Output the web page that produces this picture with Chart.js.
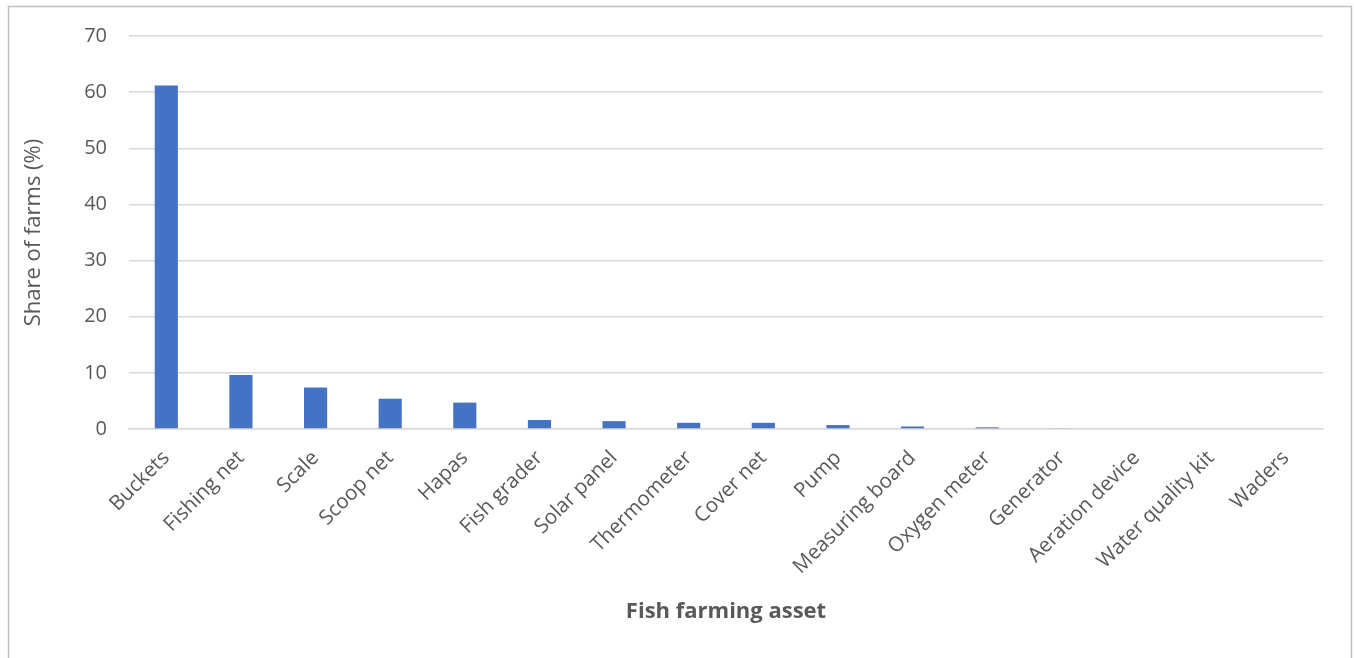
<!DOCTYPE html>
<html>
<head>
<meta charset="utf-8">
<script src="https://cdn.jsdelivr.net/npm/chart.js@4.4.0/dist/chart.umd.min.js"></script>
<style>
  html, body { margin: 0; padding: 0; background: #fff; }
  #wrap { width: 1354px; height: 658px; }
</style>
</head>
<body>
<div id="wrap"><canvas id="assetChart" width="1354" height="658"></canvas></div>
<script>
const assets = ['Buckets', 'Fishing net', 'Scale', 'Scoop net', 'Hapas', 'Fish grader',
  'Solar panel', 'Thermometer', 'Cover net', 'Pump', 'Measuring board', 'Oxygen meter',
  'Generator', 'Aeration device', 'Water quality kit', 'Waders'];
const shareOfFarms = [61.2, 9.6, 7.4, 5.4, 4.7, 1.6, 1.4, 1.1, 1.1, 0.7, 0.45, 0.3, 0.15, 0, 0, 0];
const yTicks = [0, 10, 20, 30, 40, 50, 60, 70];

const fontFamily = "'Open Sans', 'Noto Sans', sans-serif";
const textGrey = '#595959';

// light grey frame around the whole chart
const framePlugin = {
  id: 'frame',
  beforeDraw(chart) {
    const ctx = chart.ctx;
    ctx.save();
    ctx.strokeStyle = '#bfbfbf';
    ctx.lineWidth = 1.5;
    ctx.strokeRect(8.5, 6.5, 1343, 700);
    ctx.restore();
  }
};

new Chart(document.getElementById('assetChart'), {
  type: 'bar',
  data: {
    labels: assets,
    datasets: [{
      data: shareOfFarms,
      backgroundColor: '#4472c4',
      borderWidth: 0,
      barPercentage: 0.31,
      categoryPercentage: 1.0
    }]
  },
  options: {
    responsive: false,
    animation: false,
    layout: { padding: { top: 36, right: 31, left: 0, bottom: 0 } },
    plugins: {
      legend: { display: false },
      tooltip: { enabled: false }
    },
    scales: {
      x: {
        grid: { display: false, drawTicks: false },
        border: { display: true, color: '#d9d9d9', width: 1.5 },
        ticks: {
          color: textGrey,
          font: { family: fontFamily, size: 20.5 },
          minRotation: 45,
          maxRotation: 45,
          padding: 17,
          autoSkip: false
        },
        title: {
          display: true,
          text: 'Fish farming asset',
          color: textGrey,
          font: { family: fontFamily, size: 22, weight: 'bold' },
          padding: { top: 0, bottom: 33 }
        },
        afterFit(scale) { scale.height = 229; }
      },
      y: {
        min: 0,
        max: 70,
        afterBuildTicks(scale) { scale.ticks = yTicks.map(v => ({ value: v })); },
        grid: { color: '#d9d9d9', lineWidth: 1.5, drawTicks: false },
        border: { display: false },
        ticks: {
          color: textGrey,
          font: { family: fontFamily, size: 20 },
          padding: 22
        },
        title: {
          display: true,
          text: 'Share of farms (%)',
          color: textGrey,
          font: { family: fontFamily, size: 22 },
          padding: { top: 21, bottom: 0 }
        },
        afterFit(scale) { scale.width = 129; }
      }
    }
  },
  plugins: [framePlugin]
});
</script>
</body>
</html>
